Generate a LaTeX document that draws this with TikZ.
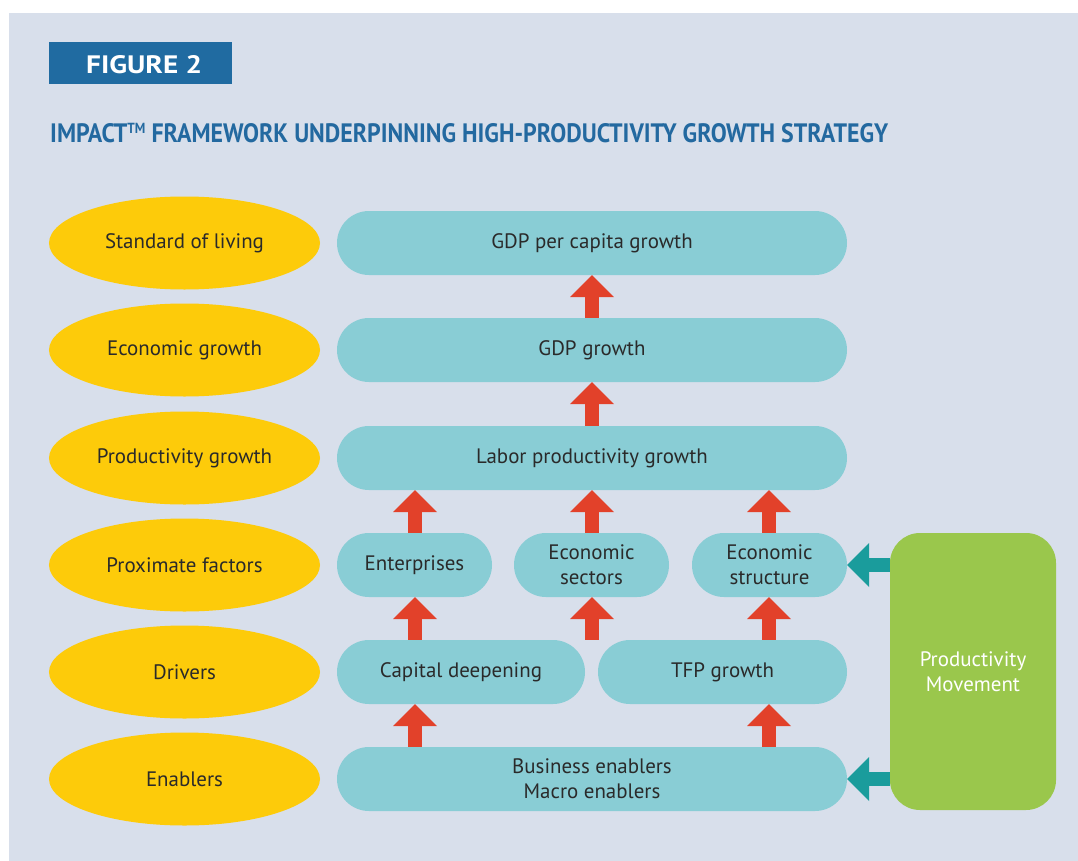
\documentclass[tikz,border=0pt]{standalone}
\usepackage{fontspec}
\setmainfont{PT Sans}
\usetikzlibrary{shapes.geometric}

\definecolor{pagebg}{HTML}{D8DFEB}
\definecolor{figblue}{HTML}{206BA1}
\definecolor{titleblue}{HTML}{2369A0}
\definecolor{levelyellow}{HTML}{FDCB0A}
\definecolor{pilltEal}{HTML}{89CDD5}
\definecolor{uparrowred}{HTML}{E2412A}
\definecolor{movegreen}{HTML}{9AC74C}
\definecolor{sidearrow}{HTML}{1A9C9C}
\definecolor{bodytext}{HTML}{2A2A2A}

\tikzset{
  bodyfont/.style={font=\fontsize{21}{25}\selectfont},
  level/.style={ellipse, fill=levelyellow, minimum width=271bp, minimum height=93bp,
    inner sep=0pt, text=bodytext, bodyfont},
  pill/.style={rectangle, fill=pilltEal, rounded corners=32bp, minimum height=64bp,
    inner sep=0pt, align=center, text=bodytext, bodyfont},
  movebox/.style={rectangle, fill=movegreen, rounded corners=30bp, minimum width=166bp,
    minimum height=277bp, inner sep=0pt, align=center, text=white, bodyfont},
}

% vertical block arrow at column #1 from the top of node #2 up to the bottom of node #3
\newcommand\redblock[3]{%
  \draw[line width=14bp, uparrowred] (#1 |- #2.north) -- ([yshift=-22bp]#1 |- #3.south);
  \fill[uparrowred] (#1 |- #3.south) -- ++(22,22) -- ++(-44,0) -- cycle;
}
% horizontal block arrow from the movement box to the east side of node #1
\newcommand\sideblock[1]{%
  \draw[line width=14bp, sidearrow] (pm.west |- #1.east) -- ([xshift=22bp]#1.east);
  \fill[sidearrow] (#1.east) -- ++(22,-22) -- ++(0,44) -- cycle;
}

\begin{document}
\begin{tikzpicture}[x=1bp,y=-1bp]
\useasboundingbox (0,0) rectangle (1078,861);
\fill[white] (0,0) rectangle (1078,861);
\fill[pagebg] (9,13) rectangle (1078,861);

% heading
\node[fill=figblue, minimum width=183bp, minimum height=42bp, inner sep=0pt] (fig) at (140.5,63) {};
\node[anchor=base west, inner sep=0pt, text=white] (figtext) at (86,73)
  {\resizebox{116bp}{18bp}{\bfseries FIGURE 2}};
\node[anchor=base west, inner sep=0pt, text=titleblue] (title) at (50,142)
  {\resizebox{838bp}{19bp}{\bfseries IMPACT\smash{\raisebox{0.33em}{\scalebox{0.55}{TM}}} FRAMEWORK UNDERPINNING HIGH-PRODUCTIVITY GROWTH STRATEGY}};

% level labels
\node[level] (l1) at (184.5,243) {Standard of living};
\node[level] (l2) at (184.5,350) {Economic growth};
\node[level] (l3) at (184.5,458) {Productivity growth};
\node[level] (l4) at (184.5,565) {Proximate factors};
\node[level] (l5) at (184.5,672) {Drivers};
\node[level] (l6) at (184.5,779) {Enablers};

% framework boxes
\node[pill, minimum width=510bp] (gdppc) at (592,243) {GDP per capita growth};
\node[pill, minimum width=510bp] (gdp) at (592,350) {GDP growth};
\node[pill, minimum width=510bp] (lab) at (592,458) {Labor productivity growth};
\node[pill, minimum width=155bp] (ent) at (414.5,565) {Enterprises};
\node[pill, minimum width=155bp] (sec) at (591.5,565) {Economic\\sectors};
\node[pill, minimum width=155bp] (str) at (769.5,565) {Economic\\structure};
\node[pill, minimum width=248bp] (cap) at (461,672) {Capital deepening};
\node[pill, minimum width=249bp] (tfp) at (722.5,672) {TFP growth};
\node[pill, minimum width=510bp] (enb) at (592,779) {Business enablers\\Macro enablers};

\node[movebox] (pm) at (973,671.5) {Productivity\\Movement};

% arrow columns
\coordinate (ca) at (415,0);
\coordinate (cb) at (592,0);
\coordinate (cc) at (769,0);

\redblock{cb}{gdp}{gdppc}
\redblock{cb}{lab}{gdp}
\redblock{ca}{ent}{lab}
\redblock{cb}{sec}{lab}
\redblock{cc}{str}{lab}
\redblock{ca}{cap}{ent}
\redblock{cb}{cap}{sec}
\redblock{cc}{tfp}{str}
\redblock{ca}{enb}{cap}
\redblock{cc}{enb}{tfp}

\sideblock{str}
\sideblock{enb}
\end{tikzpicture}
\end{document}
